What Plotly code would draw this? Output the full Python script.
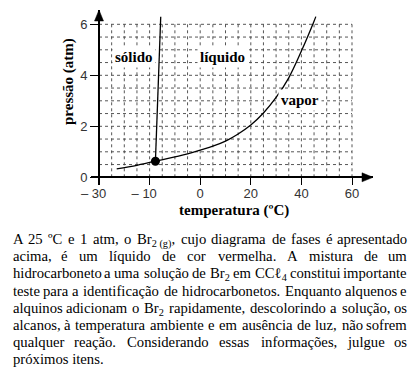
import re
import unicodedata
import plotly.graph_objects as go

# ---------------- data ----------------
TICK_POS_X = [-40, -20, 0, 20, 40, 60]
TICK_TEXT_X = ["– 30\u00a0\u00a0\u00a0", "– 10\u00a0\u00a0\u00a0", "0", "20", "40", "60"]
TICK_POS_Y = [0, 2, 4, 6]
TICK_TEXT_Y = ["0", "2", "4", "6"]

SUBLIM_T = [-33.0, -25.0, -17.7]
SUBLIM_P = [0.33, 0.47, 0.63]
FUSION_T = [-17.7, -15.6]
FUSION_P = [0.63, 6.30]
VAPOR_T = [-17.7, -10, -5, 0, 5, 10, 15, 20, 25, 30, 35, 40, 45, 45.7]
VAPOR_P = [0.63, 0.80, 0.92, 1.07, 1.22, 1.42, 1.70, 2.05, 2.52, 3.13, 3.90, 4.95, 6.12, 6.30]
TRIPLE_T = [-17.7]
TRIPLE_P = [0.63]

GRID_X = list(range(-40, 61, 5))
GRID_Y = [i * 0.5 for i in range(13)]

REGION_LABELS = ["sólido", "líquido", "vapor"]
REGION_T = [-26.3, 8.7, 39.6]
REGION_P = [4.73, 4.73, 3.03]

PARAGRAPH = [
    ["A", "25", "ºC", "e", "1", "atm,", "o", "Br<sub>2 (g)</sub>,", "cujo", "diagrama", "de", "fases", "é", "apresentado"],
    ["acima,", "é", "um", "líquido", "de", "cor", "vermelha.", "A", "mistura", "de", "um"],
    ["hidrocarboneto", "a", "uma", "solução", "de", "Br<sub>2</sub>", "em", "CCℓ<sub>4</sub>", "constitui", "importante"],
    ["teste", "para", "a", "identificação", "de", "hidrocarbonetos.", "Enquanto", "alquenos", "e"],
    ["alquinos", "adicionam", "o", "Br<sub>2</sub>", "rapidamente,", "descolorindo", "a", "solução,", "os"],
    ["alcanos,", "à", "temperatura", "ambiente", "e", "em", "ausência", "de", "luz,", "não", "sofrem"],
    ["qualquer", "reação.", "Considerando", "essas", "informações,", "julgue", "os"],
]
LAST_LINE = "próximos itens."

# ---------------- layout geometry ----------------
FIG_W, FIG_H = 417, 376
ML, MR, MT, MB = 91, 44, 10, 191
PW = FIG_W - ML - MR
PH = FIG_H - MT - MB
PPX = 2.53   # px per x unit
PPY = 25.5   # px per y unit
X_MIN = -40 - (99 - ML) / PPX
X_MAX = X_MIN + PW / PPX
Y_MIN = -((FIG_H - MB) - 177.3) / PPY
Y_MAX = Y_MIN + PH / PPY


def paper_x(px):
    return (px - ML) / PW


def paper_y(py):
    return ((FIG_H - MB) - py) / PH


SERIF = "Liberation Serif, Times New Roman, serif"
SANS = "Liberation Sans, Arial, sans-serif"

fig = go.Figure()

# curves
fig.add_trace(go.Scatter(x=SUBLIM_T, y=SUBLIM_P, mode="lines", line=dict(color="black", width=1.3, shape="spline"), hoverinfo="skip"))
fig.add_trace(go.Scatter(x=FUSION_T, y=FUSION_P, mode="lines", line=dict(color="black", width=1.3), hoverinfo="skip"))
fig.add_trace(go.Scatter(x=VAPOR_T, y=VAPOR_P, mode="lines", line=dict(color="black", width=1.3, shape="spline"), hoverinfo="skip"))
fig.add_trace(go.Scatter(x=TRIPLE_T, y=TRIPLE_P, mode="markers", marker=dict(color="black", size=9), hoverinfo="skip"))

# dotted grid
shapes = []
for gx in GRID_X:
    shapes.append(dict(type="line", xref="x", yref="y", x0=gx, x1=gx, y0=0, y1=6.12,
                       line=dict(color="#444", width=0.9, dash="dot"), layer="below"))
for gy in GRID_Y:
    shapes.append(dict(type="line", xref="x", yref="y", x0=-40, x1=60, y0=gy, y1=gy,
                       line=dict(color="#444", width=0.9, dash="dot"), layer="below"))

# axis arrowheads (filled triangles, sized in pixels)
AL, AH = 11.0, 4.5
shapes.append(dict(type="path", xref="x", yref="y",
                   path="M %f,0 L %f,%f L %f,%f Z" % (X_MAX, X_MAX - AL / PPX, AH / PPY, X_MAX - AL / PPX, -AH / PPY),
                   fillcolor="black", line=dict(color="black", width=0.5)))
shapes.append(dict(type="path", xref="x", yref="y",
                   path="M -40,%f L %f,%f L %f,%f Z" % (Y_MAX, -40 - AH / PPX, Y_MAX - AL / PPY, -40 + AH / PPX, Y_MAX - AL / PPY),
                   fillcolor="black", line=dict(color="black", width=0.5)))

annotations = []
# region labels
for lab, t, p in zip(REGION_LABELS, REGION_T, REGION_P):
    annotations.append(dict(x=t, y=p, xref="x", yref="y", text="<b>%s</b>" % lab, showarrow=False,
                            xanchor="center", yanchor="middle",
                            font=dict(family=SERIF, size=15, color="black"), bgcolor="white", borderpad=2))

# axis titles
annotations.append(dict(x=paper_x(68), y=paper_y(82), xref="paper", yref="paper", text="<b>pressão (atm)</b>",
                        textangle=-90, showarrow=False, xanchor="center", yanchor="middle",
                        font=dict(family=SERIF, size=15, color="black")))
annotations.append(dict(x=paper_x(233.5), y=paper_y(210), xref="paper", yref="paper", text="<b>temperatura (ºC)</b>",
                        showarrow=False, xanchor="center", yanchor="middle",
                        font=dict(family=SERIF, size=15, color="black")))

# ---------------- justified paragraph ----------------
TIMES_W = {
    " ": 250, ",": 250, ".": 250, "(": 333, ")": 333, "º": 310, "ℓ": 450,
    "a": 444, "b": 500, "c": 444, "d": 500, "e": 444, "f": 333, "g": 500, "h": 500, "i": 278,
    "j": 278, "k": 500, "l": 278, "m": 778, "n": 500, "o": 500, "p": 500, "q": 500, "r": 333,
    "s": 389, "t": 278, "u": 500, "v": 500, "w": 722, "x": 500, "y": 500, "z": 444,
    "A": 722, "B": 667, "C": 667, "D": 722, "E": 611, "F": 556, "G": 722, "H": 722, "I": 333,
}
for d in "0123456789":
    TIMES_W[d] = 500


def char_w(ch):
    if ch in TIMES_W:
        return TIMES_W[ch]
    base = unicodedata.normalize("NFD", ch)[0]
    return TIMES_W.get(base, 500)


def text_width(s, size):
    total, scale = 0.0, 1.0
    for part in re.split(r"(<sub>|</sub>)", s):
        if part == "<sub>":
            scale = 0.7
            continue
        if part == "</sub>":
            scale = 1.0
            continue
        for ch in part:
            total += char_w(ch) * scale
    return total * size / 1000.0


TXT_SIZE = 14.7
LEFT, RIGHT = 11.7, 408.3
BASE0, LEAD = 243.3, 17.14
ASC = 0.891 * TXT_SIZE

for i, words in enumerate(PARAGRAPH):
    top = BASE0 + i * LEAD - ASC
    widths = [text_width(w, TXT_SIZE) for w in words]
    gap = (RIGHT - LEFT - sum(widths)) / (len(words) - 1)
    x = LEFT
    n = len(words)
    for j, (w, ww) in enumerate(zip(words, widths)):
        if j == 0:
            xp, anc = LEFT, "left"
        elif j == n - 1:
            xp, anc = RIGHT, "right"
        else:
            xp, anc = x + ww / 2.0, "center"
        annotations.append(dict(x=paper_x(xp), y=paper_y(top), xref="paper", yref="paper",
                                text=w, showarrow=False, xanchor=anc, yanchor="top",
                                borderpad=0, font=dict(family=SERIF, size=TXT_SIZE, color="black")))
        x += ww + gap

top = BASE0 + len(PARAGRAPH) * LEAD - ASC
annotations.append(dict(x=paper_x(LEFT), y=paper_y(top), xref="paper", yref="paper", text=LAST_LINE,
                        showarrow=False, xanchor="left", yanchor="top", borderpad=0,
                        font=dict(family=SERIF, size=TXT_SIZE, color="black")))

fig.update_layout(
    width=FIG_W, height=FIG_H,
    margin=dict(l=ML, r=MR, t=MT, b=MB),
    paper_bgcolor="white", plot_bgcolor="white",
    showlegend=False,
    shapes=shapes, annotations=annotations,
    xaxis=dict(range=[X_MIN, X_MAX], anchor="free", position=(0 - Y_MIN) / (Y_MAX - Y_MIN),
               showline=True, linecolor="black", linewidth=1.8, showgrid=False, zeroline=False,
               ticks="outside", ticklen=7, tickwidth=1.4, tickcolor="black",
               tickvals=TICK_POS_X, ticktext=TICK_TEXT_X, ticklabelstandoff=-3,
               tickfont=dict(family=SANS, size=13, color="#333")),
    yaxis=dict(range=[Y_MIN, Y_MAX], anchor="free", position=(-40 - X_MIN) / (X_MAX - X_MIN),
               showline=True, linecolor="black", linewidth=1.8, showgrid=False, zeroline=False,
               ticks="outside", ticklen=8, tickwidth=1.4, tickcolor="black",
               tickvals=TICK_POS_Y, ticktext=TICK_TEXT_Y,
               tickfont=dict(family=SANS, size=13, color="#333")),
)

fig.write_html("out.html", config={"displayModeBar": False},
               post_script="document.body.style.margin='0px';")
